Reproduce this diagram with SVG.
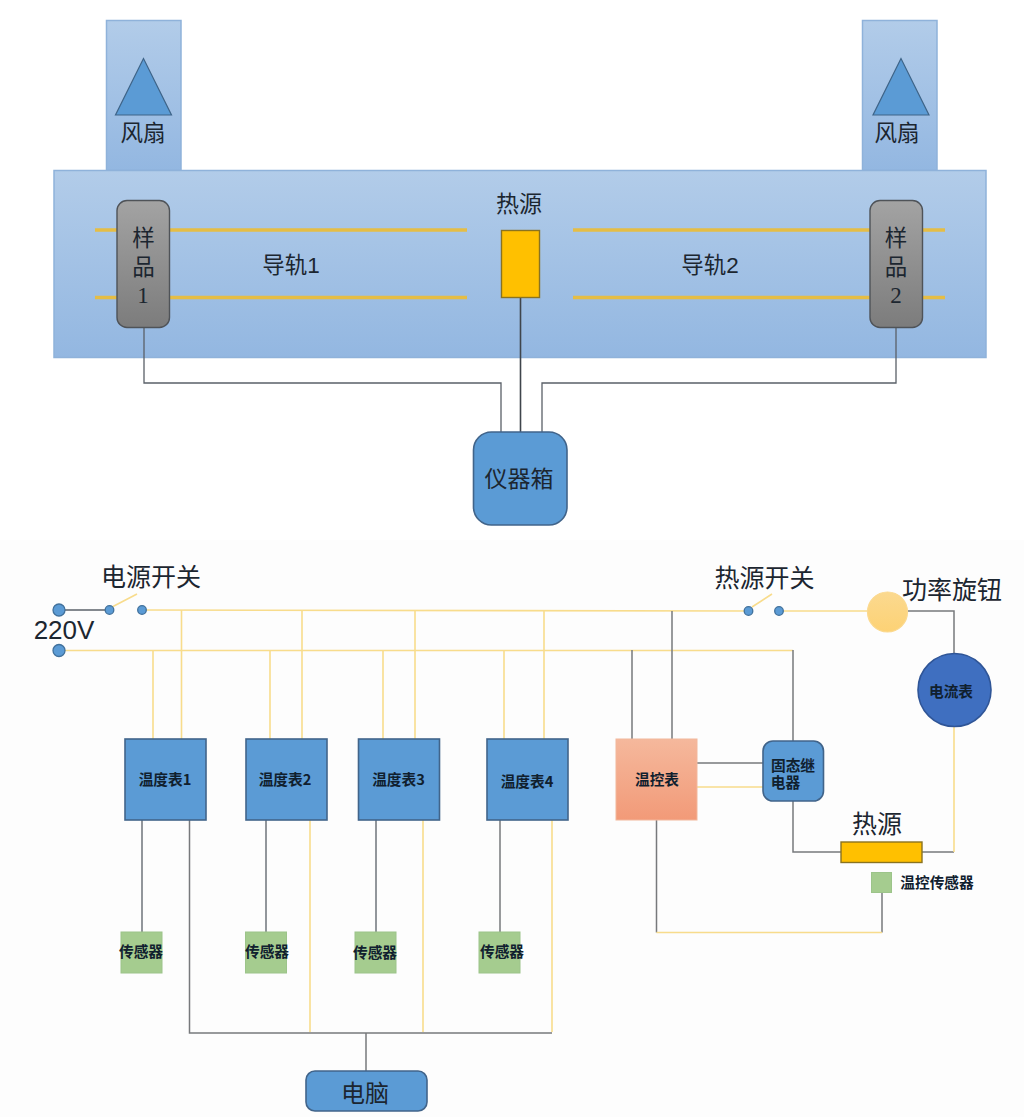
<svg xmlns="http://www.w3.org/2000/svg" width="1024" height="1117" viewBox="0 0 1024 1117">
<style>
text{font-family:"Noto Sans CJK SC","Liberation Sans",sans-serif;fill:#1c2630;text-anchor:middle}
.a{font-family:"Liberation Sans","Noto Sans CJK SC",sans-serif}
.s{font-family:"Liberation Serif","Noto Sans CJK SC",serif}
.b{font-weight:700;font-size:14.700px;fill:#10202e}
.y{fill:none;stroke:#f8dc8c;stroke-width:1.600}
.d{fill:none;stroke:#77797c;stroke-width:1.500}
.dk{fill:none;stroke:#5a6068;stroke-width:1.300}
.rail{fill:none;stroke:#e5bd45;stroke-width:3.400}
.blue{fill:#5b9bd5;stroke:#41648a;stroke-width:1.600}
.bb{fill:url(#lb);stroke:#8fb2da;stroke-width:1.500}
.gr{fill:#a5cc8f;stroke:#9cc48a;stroke-width:1}
.dot{fill:#5b9bd5;stroke:#41719c;stroke-width:1.300}
</style>
<defs>
<linearGradient id="lb" x1="0" y1="0" x2="0" y2="1"><stop offset="0" stop-color="#b2cce9"/><stop offset="1" stop-color="#93b7e1"/></linearGradient>
<linearGradient id="lg" x1="0" y1="0" x2="0" y2="1"><stop offset="0" stop-color="#a3a3a3"/><stop offset="1" stop-color="#7c7c7c"/></linearGradient>
<linearGradient id="lo" x1="0" y1="0" x2="0" y2="1"><stop offset="0" stop-color="#f5b89c"/><stop offset="1" stop-color="#f29a78"/></linearGradient>
<linearGradient id="ly" x1="0" y1="0" x2="0" y2="1"><stop offset="0" stop-color="#fbd98f"/><stop offset="1" stop-color="#fdd275"/></linearGradient>
</defs>
<rect width="1024" height="1117" fill="#fff"/>
<rect y="540" width="1024" height="577" fill="#fdfdfd"/>
<g id="fan1"><rect class="bb" x="106.500" y="20.500" width="74.500" height="150"/><polygon points="143.500,58.500 115.500,115 171.500,115" fill="#5b9bd5" stroke="#3e6488" stroke-width="1.200"/><text x="143" y="141" font-size="22.500">风扇</text></g>
<g id="fan2"><rect class="bb" x="862.500" y="20.500" width="74.500" height="150"/><polygon points="901,58.500 873,115 929,115" fill="#5b9bd5" stroke="#3e6488" stroke-width="1.200"/><text x="897" y="141" font-size="22.500">风扇</text></g>
<g id="chamber"><rect class="bb" x="54" y="170.500" width="932" height="187"/></g>
<g id="connectors">
<path class="rail" d="M95 230H467M95 297.500H467M573 230H945M573 297.500H945"/>
<path class="dk" d="M144 327V383H501V432M896 327V383H542V432"/>
<path fill="none" stroke="#3f454c" stroke-width="1.600" d="M520.500 297V432"/>
<path class="dk" d="M65 610H110"/>
<path class="y" d="M112 607L137 594M146 610L748 611"/>
<path class="y" d="M752 607L772 594M783 611H868M65 650.500H793"/>
<path class="y" d="M181.500 610V739M153 650V739M302 610V739M270 650V739M415 610V739M383 650V739M544 611V739M504 650V739"/>
<path class="d" d="M632 650V739M672 611V739M793 650V741M697 763H763M793 801V852H841M908 611H954V654M922 852H954"/>
<path class="y" d="M697 787H763M954 727V852"/>
<path class="d" d="M656.500 820V932.500M882 932.500V893"/>
<path class="y" d="M656.500 932.500H882"/>
<path class="dk" d="M142 820V932M266 820V932M376 820V932"/>
<path class="d" d="M500 820V932M189.500 820V1033H552M366 1033V1071"/>
<path class="y" d="M310 820V1032M423 820V1032M552 820V1032"/>
</g>
<g id="sample1"><rect x="117" y="200.500" width="52.500" height="127" rx="10" fill="url(#lg)" stroke="#4f5358" stroke-width="1.400"/><text class="s" x="143.500" y="246" font-size="22.500">样</text><text class="s" x="143.500" y="275" font-size="22.500">品</text><text class="s" x="143" y="303" font-size="23">1</text></g>
<g id="sample2"><rect x="870" y="200.500" width="52.500" height="127" rx="10" fill="url(#lg)" stroke="#4f5358" stroke-width="1.400"/><text class="s" x="896" y="246" font-size="22.500">样</text><text class="s" x="896" y="275" font-size="22.500">品</text><text class="s" x="896" y="303" font-size="23">2</text></g>
<g id="heater"><rect x="501.500" y="230.500" width="38" height="67" fill="#ffc000" stroke="#8a7320" stroke-width="1.400"/><text x="519" y="212" font-size="23">热源</text></g>
<text class="a" x="291" y="273" font-size="22.500">导轨1</text>
<text class="a" x="710" y="273" font-size="22.500">导轨2</text>
<g id="box"><rect class="blue" x="473.500" y="432" width="93.500" height="93" rx="18"/><text x="519" y="487" font-size="23">仪器箱</text></g>
<g id="switch1"><circle class="dot" cx="59" cy="610" r="6"/><circle class="dot" cx="59" cy="650.500" r="6"/><circle class="dot" cx="109.500" cy="610" r="4.300"/><circle class="dot" cx="142" cy="610" r="4.300"/><text x="151" y="586" font-size="25">电源开关</text><text class="a" x="64" y="639" font-size="26">220V</text></g>
<g id="switch2"><circle class="dot" cx="748.500" cy="611" r="4.300"/><circle class="dot" cx="779" cy="611" r="4.300"/><text x="764.500" y="587" font-size="25">热源开关</text></g>
<g id="knob"><circle cx="887.500" cy="612" r="20" fill="url(#ly)" stroke="#fbd98f" stroke-width="1.200"/><text x="952" y="599" font-size="25">功率旋钮</text></g>
<g id="ammeter"><circle cx="954.500" cy="690" r="36.500" fill="#3f6fc0" stroke="#2f5597" stroke-width="1.600"/><text class="b" x="951" y="697">电流表</text></g>
<g id="t1"><rect class="blue" x="125" y="739" width="81" height="81"/><text class="b" x="165" y="785">温度表1</text></g>
<g id="t2"><rect class="blue" x="246" y="739" width="81" height="81"/><text class="b" x="285" y="785">温度表2</text></g>
<g id="t3"><rect class="blue" x="358.500" y="739" width="81" height="81"/><text class="b" x="398.500" y="785">温度表3</text></g>
<g id="t4"><rect class="blue" x="487" y="739" width="81" height="81"/><text class="b" x="527" y="787">温度表4</text></g>
<g id="tc"><rect x="616" y="739" width="81" height="81" fill="url(#lo)" stroke="#f2b79c" stroke-width="1"/><text class="b" x="657" y="785">温控表</text></g>
<g id="ssr"><rect class="blue" x="763" y="741" width="60.500" height="60" rx="10"/><text class="b s" x="793" y="771">固态继</text><text class="b s" x="785.500" y="788">电器</text></g>
<g id="heater2"><rect x="841" y="842" width="81" height="20.500" fill="#ffc000" stroke="#8a7320" stroke-width="1.400"/><text x="877" y="833" font-size="25">热源</text></g>
<g id="tcs"><rect class="gr" x="871.500" y="872.500" width="20" height="20"/><text class="b" x="937" y="888">温控传感器</text></g>
<g id="s1"><rect class="gr" x="121" y="932" width="41" height="41"/><text class="b" x="141" y="957">传感器</text></g>
<g id="s2"><rect class="gr" x="245.500" y="932" width="41" height="41"/><text class="b" x="267" y="957">传感器</text></g>
<g id="s3"><rect class="gr" x="355" y="932" width="41" height="41"/><text class="b" x="375" y="958">传感器</text></g>
<g id="s4"><rect class="gr" x="479" y="932" width="41" height="41"/><text class="b" x="502" y="957">传感器</text></g>
<g id="pc"><rect class="blue" x="306" y="1071" width="121" height="40" rx="9"/><text x="365" y="1102" font-size="24">电脑</text></g>
</svg>
